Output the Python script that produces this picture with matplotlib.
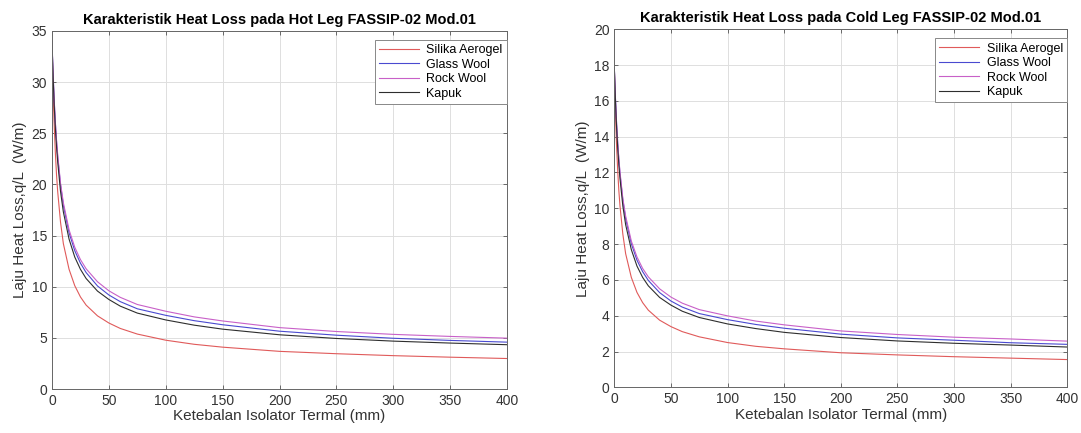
# Heat loss vs insulation thickness, hot leg and cold leg of FASSIP-02 Mod.01
import matplotlib
matplotlib.use("Agg")
import matplotlib.pyplot as plt

plt.rcParams["font.family"] = ["Liberation Sans", "DejaVu Sans"]

# insulation thickness (mm)
thickness = [0, 0.5, 1, 2, 3, 4, 5, 7.5, 10, 15, 20, 25, 30, 40, 50, 60, 75,
             100, 125, 150, 200, 250, 300, 350, 400]

# hot leg heat loss q/L (W/m)
hot_silika = [34, 31.4, 29.1, 25.6, 23.0, 20.9, 19.3, 16.3, 14.2, 11.7, 10.1, 9.0, 8.2,
              7.15, 6.45, 5.92, 5.37, 4.77, 4.37, 4.09, 3.68, 3.45, 3.26, 3.11, 2.98]
hot_glass = [34, 32.3, 30.7, 28.0, 25.9, 24.2, 22.7, 19.95, 17.95, 15.27, 13.52, 12.3, 11.38,
             10.07, 9.19, 8.54, 7.84, 7.2, 6.68, 6.28, 5.65, 5.26, 4.96, 4.75, 4.58]
hot_rock = [34, 32.3, 30.7, 28.1, 26.0, 24.3, 22.9, 20.1, 18.2, 15.56, 13.86, 12.65, 11.75,
            10.48, 9.60, 8.96, 8.26, 7.6, 7.05, 6.65, 6.0, 5.62, 5.34, 5.14, 4.97]
hot_kapuk = [34, 32.1, 30.4, 27.6, 25.4, 23.65, 22.2, 19.3, 17.3, 14.65, 12.9, 11.7, 10.8,
             9.57, 8.75, 8.10, 7.42, 6.75, 6.24, 5.85, 5.3, 4.94, 4.68, 4.49, 4.33]

# cold leg heat loss q/L (W/m)
cold_silika = [17.85, 16.5, 15.28, 13.44, 12.08, 10.97, 10.13, 8.56, 7.46, 6.14, 5.30, 4.73, 4.31,
               3.75, 3.39, 3.11, 2.82, 2.50, 2.29, 2.15, 1.93, 1.81, 1.71, 1.63, 1.55]
cold_glass = [17.85, 16.95, 16.12, 14.7, 13.6, 12.71, 11.92, 10.47, 9.42, 8.02, 7.10, 6.46, 5.97,
              5.29, 4.82, 4.48, 4.12, 3.78, 3.51, 3.30, 2.97, 2.76, 2.63, 2.49, 2.40]
cold_rock = [17.85, 16.95, 16.12, 14.75, 13.65, 12.76, 12.02, 10.55, 9.56, 8.17, 7.28, 6.64, 6.17,
             5.50, 5.04, 4.70, 4.34, 3.99, 3.70, 3.49, 3.15, 2.95, 2.80, 2.70, 2.58]
cold_kapuk = [17.85, 16.85, 15.96, 14.49, 13.34, 12.42, 11.66, 10.13, 9.08, 7.69, 6.77, 6.14, 5.67,
              5.02, 4.59, 4.25, 3.90, 3.54, 3.28, 3.07, 2.78, 2.59, 2.46, 2.36, 2.25]

labels = ["Silika Aerogel", "Glass Wool", "Rock Wool", "Kapuk"]
colors = ["#e05a5a", "#4a4ad0", "#c860c8", "#2e2e2e"]


def draw_panel(ax, series, title, ymax, ystep):
    for y, lab, col in zip(series, labels, colors):
        ax.plot(thickness, y, color=col, linewidth=0.8, label=lab)

    ax.set_xlim(0, 400)
    ax.set_ylim(0, ymax)
    ax.set_xticks(range(0, 401, 50))
    ax.set_yticks(range(0, ymax + 1, ystep))
    ax.grid(True, color="#dedede", linewidth=0.7)
    ax.set_axisbelow(True)
    ax.tick_params(direction="in", top=True, right=True, labelsize=10,
                   colors="#555555", labelcolor="#333333", length=3, width=0.6)
    for sp in ax.spines.values():
        sp.set_color("#666666")
        sp.set_linewidth(0.7)

    ax.set_title(title, fontsize=10.5, fontweight="bold", pad=5)
    ax.set_xlabel("Ketebalan Isolator Termal (mm)", fontsize=11, color="#333333", labelpad=1)
    ax.set_ylabel("Laju Heat Loss,q/L  (W/m)", fontsize=11, color="#333333", labelpad=3)

    leg = ax.legend(loc="upper right", bbox_to_anchor=(1.0, 0.975), borderaxespad=0,
                    fontsize=9, handlelength=3.2, labelspacing=0.2, fancybox=False,
                    framealpha=1, edgecolor="#888888", borderpad=0.35, handletextpad=0.6)
    leg.get_frame().set_linewidth(0.7)


fig = plt.figure(figsize=(10.81, 4.33), dpi=100)
ax1 = fig.add_axes([0.0481, 0.1016, 0.421, 0.827])
ax2 = fig.add_axes([0.5683, 0.1055, 0.419, 0.827])

draw_panel(ax1, [hot_silika, hot_glass, hot_rock, hot_kapuk],
           "Karakteristik Heat Loss pada Hot Leg FASSIP-02 Mod.01", 35, 5)
draw_panel(ax2, [cold_silika, cold_glass, cold_rock, cold_kapuk],
           "Karakteristik Heat Loss pada Cold Leg FASSIP-02 Mod.01", 20, 2)

fig.savefig("out.png", dpi=100)
